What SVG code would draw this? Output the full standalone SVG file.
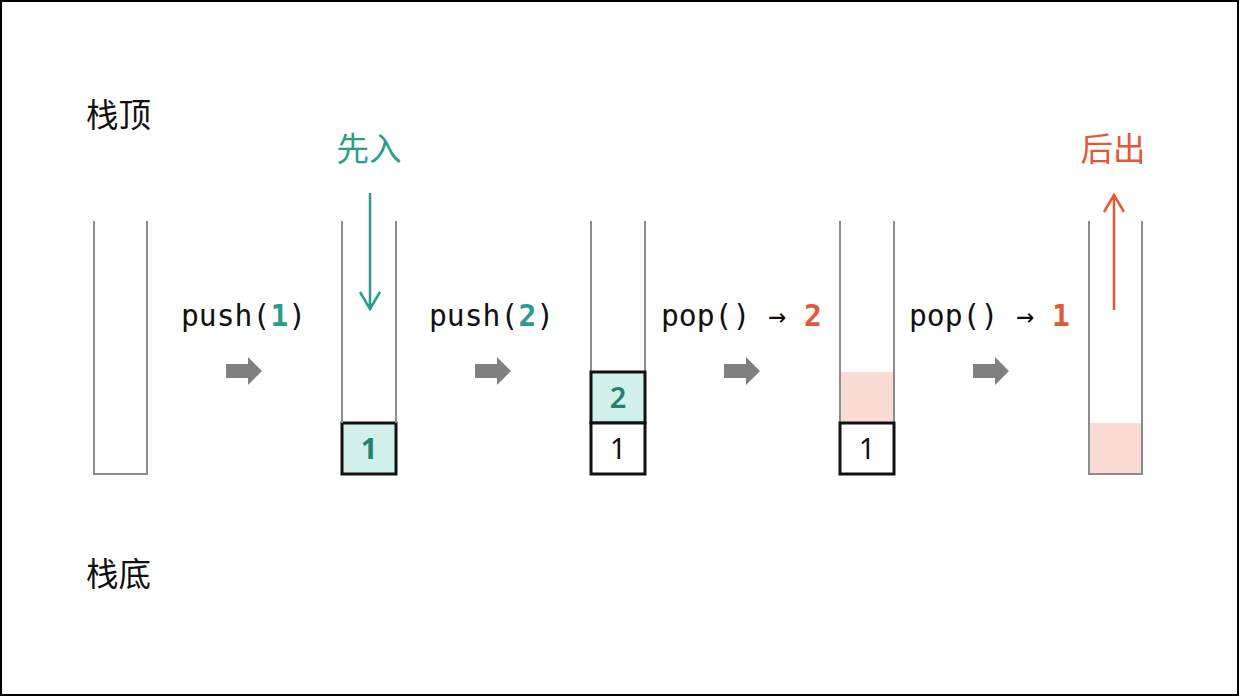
<svg xmlns="http://www.w3.org/2000/svg" width="1240" height="696" viewBox="0 0 1240 696">
<style>
.wall{fill:none;stroke:#8c8c8c;stroke-width:2}
.box{stroke:#111;stroke-width:3}
.teal{fill:#d2f1ec}
.wht{fill:#fff}
.pink{fill:#fadcd5}
.cn{font-family:"Noto Sans CJK SC","Noto Sans",sans-serif;font-size:32.5px}
.mono{font-family:"DejaVu Sans Mono","Liberation Mono",monospace;font-size:29.7px;fill:#111}
.num{font-family:"Noto Sans","Liberation Sans",sans-serif;font-size:29px;text-anchor:middle}
.ga{fill:#808080}
</style>
<defs>
<path id="garrow" d="M0,-7 H22 V-14 L36,0 L22,14 V7 H0 Z" class="ga"/>
</defs>
<rect x="1" y="1" width="1237" height="694" fill="#fff" stroke="#000" stroke-width="2"/>
<g id="labels">
<text class="cn" x="86" y="127" fill="#111">栈顶</text>
<text class="cn" x="86" y="586" fill="#111">栈底</text>
</g>
<g id="stack0">
<path class="wall" d="M94,221 V474 H147 V221"/>
</g>
<g id="stack1">
<rect class="box teal" x="342" y="423" width="54" height="51"/>
<path class="wall" d="M342,221 V423 M396,221 V423"/>
<text class="num" x="369" y="459" fill="#25806f" font-weight="bold">1</text>
</g>
<g id="stack2">
<path class="wall" d="M591,221 V372 M645,221 V372"/>
<rect class="box teal" x="591" y="372" width="54" height="51"/>
<rect class="box wht" x="591" y="423" width="54" height="51"/>
<text class="num" x="618" y="408" fill="#25806f" font-weight="600">2</text>
<text class="num" x="618" y="459" fill="#111">1</text>
</g>
<g id="stack3">
<rect class="pink" x="841" y="372" width="52" height="51"/>
<path class="wall" d="M840,221 V423 M894,221 V423"/>
<rect class="box wht" x="840" y="423" width="54" height="51"/>
<text class="num" x="867" y="459" fill="#111">1</text>
</g>
<g id="stack4">
<rect class="pink" x="1090" y="423" width="52" height="51"/>
<path class="wall" d="M1089,221 V474 H1142 V221"/>
</g>
<g id="ops">
<text class="mono" x="181" y="326">push(<tspan fill="#2a9d8c" font-weight="bold">1</tspan>)</text>
<text class="mono" x="429" y="326">push(<tspan fill="#2a9d8c" font-weight="bold">2</tspan>)</text>
<text class="mono" x="661" y="326">pop() → <tspan fill="#e05a3a" font-weight="bold">2</tspan></text>
<text class="mono" x="909" y="326">pop() → <tspan fill="#e05a3a" font-weight="bold">1</tspan></text>
</g>
<g id="connectors">
<use href="#garrow" x="226" y="371"/>
<use href="#garrow" x="475" y="371"/>
<use href="#garrow" x="724" y="371"/>
<use href="#garrow" x="973" y="371"/>
<path d="M370,193 V309 M360,292 L370,309 L380,292" fill="none" stroke="#2a9d8c" stroke-width="2.5"/>
<path d="M1114,310 V195 M1104,212 L1114,195 L1124,212" fill="none" stroke="#e05a3a" stroke-width="2.5"/>
</g>
<g id="captions">
<text class="cn" x="369" y="161" fill="#2a9d8c" text-anchor="middle">先入</text>
<text class="cn" x="1113" y="161" fill="#e05a3a" text-anchor="middle">后出</text>
</g>
</svg>
